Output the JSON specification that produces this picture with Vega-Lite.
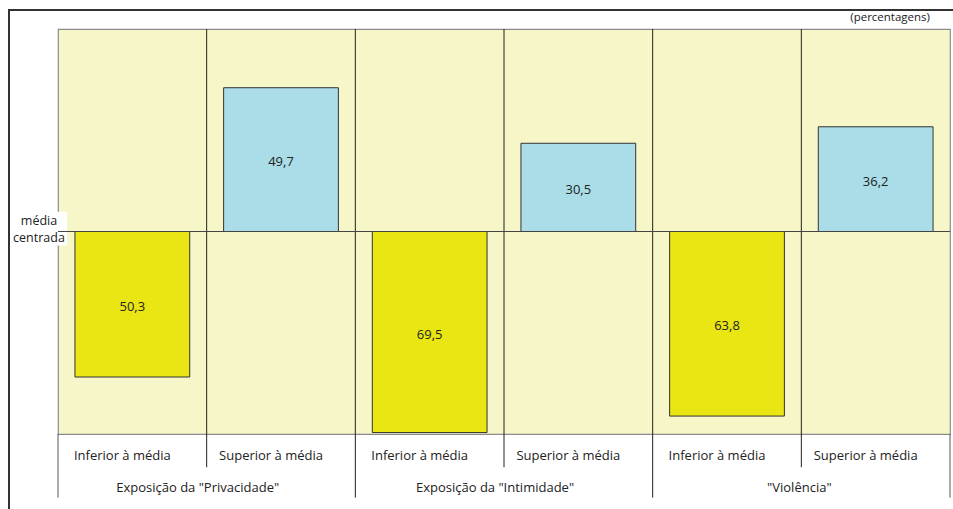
{
  "$schema": "https://vega.github.io/schema/vega-lite/v6.json",
  "width": 892,
  "height": 405,
  "autosize": {"type": "none"},
  "padding": {"left": 58, "top": 29, "right": 3, "bottom": 75},
  "background": "white",
  "config": {
    "view": {"fill": "#F7F6C8", "stroke": "#8a8a8a", "strokeWidth": 1.2},
    "font": "Open Sans",
    "text": {"font": "Open Sans", "fontSize": 13, "color": "#222"}
  },
  "data": {
    "values": [
      {"col": "P1", "grupo": "Exposição da \"Privacidade\"", "cat": "Inferior à média", "desvio": -50.3, "rotulo": "50,3"},
      {"col": "P2", "grupo": "Exposição da \"Privacidade\"", "cat": "Superior à média", "desvio": 49.7, "rotulo": "49,7"},
      {"col": "I1", "grupo": "Exposição da \"Intimidade\"", "cat": "Inferior à média", "desvio": -69.5, "rotulo": "69,5"},
      {"col": "I2", "grupo": "Exposição da \"Intimidade\"", "cat": "Superior à média", "desvio": 30.5, "rotulo": "30,5"},
      {"col": "V1", "grupo": "\"Violência\"", "cat": "Inferior à média", "desvio": -63.8, "rotulo": "63,8"},
      {"col": "V2", "grupo": "\"Violência\"", "cat": "Superior à média", "desvio": 36.2, "rotulo": "36,2"}
    ]
  },
  "resolve": {"scale": {"x": "shared", "y": "shared"}},
  "layer": [
    {
      "mark": {"type": "rect", "fill": null, "stroke": "#333", "strokeWidth": 1.5, "xOffset": -49, "x2Offset": 160, "clip": false},
      "encoding": {
        "x": {"datum": "P1", "type": "nominal", "bandPosition": 0, "scale": {"type": "band", "domain": ["P1", "P2", "I1", "I2", "V1", "V2"], "paddingInner": 0, "paddingOuter": 0}, "axis": null},
        "x2": {"datum": "V2"},
        "y": {"datum": 76.6, "type": "quantitative", "scale": {"domain": [-70, 70], "nice": false, "zero": false}, "axis": null},
        "y2": {"datum": -100}
      }
    },
    {
      "mark": {"type": "bar", "width": {"band": 0.772}, "stroke": "#333", "strokeWidth": 1},
      "encoding": {
        "x": {"field": "col", "type": "nominal", "sort": null},
        "y": {"field": "desvio", "type": "quantitative"},
        "y2": {"datum": 0},
        "color": {"field": "cat", "type": "nominal", "scale": {"domain": ["Inferior à média", "Superior à média"], "range": ["#EAE613", "#AADDE7"]}, "legend": null}
      }
    },
    {
      "transform": [{"filter": "datum.cat == 'Superior à média'"}],
      "mark": {"type": "rule", "color": "#222", "strokeWidth": 1},
      "encoding": {
        "x": {"field": "col", "type": "nominal", "bandPosition": 0},
        "y": {"datum": 70},
        "y2": {"datum": -81.5}
      }
    },
    {
      "transform": [{"filter": "datum.cat == 'Inferior à média' && datum.col != 'P1'"}],
      "mark": {"type": "rule", "color": "#222", "strokeWidth": 1},
      "encoding": {
        "x": {"field": "col", "type": "nominal", "bandPosition": 0},
        "y": {"datum": 70},
        "y2": {"datum": -92}
      }
    },
    {
      "transform": [{"filter": "datum.col == 'P1'"}],
      "mark": {"type": "rule", "color": "#555", "strokeWidth": 1},
      "encoding": {
        "x": {"field": "col", "type": "nominal", "bandPosition": 0},
        "y": {"datum": -70},
        "y2": {"datum": -92}
      }
    },
    {
      "transform": [{"filter": "datum.col == 'V2'"}],
      "mark": {"type": "rule", "color": "#555", "strokeWidth": 1},
      "encoding": {
        "x": {"field": "col", "type": "nominal", "bandPosition": 1},
        "y": {"datum": -70},
        "y2": {"datum": -92}
      }
    },
    {
      "transform": [{"filter": "datum.col == 'P1'"}],
      "mark": {"type": "rect", "fill": "white", "xOffset": -48, "x2Offset": 9},
      "encoding": {
        "x": {"field": "col", "type": "nominal", "bandPosition": 0},
        "x2": {"field": "col", "bandPosition": 0},
        "y": {"datum": 6.8},
        "y2": {"datum": -4.8}
      }
    },
    {
      "mark": {"type": "rule", "color": "#444", "strokeWidth": 1},
      "encoding": {"y": {"datum": 0}}
    },
    {
      "transform": [{"filter": "datum.col == 'P1'"}],
      "mark": {"type": "text", "xOffset": -19, "align": "center", "baseline": "middle", "lineHeight": 17, "fontSize": 12.5},
      "encoding": {
        "x": {"field": "col", "type": "nominal", "bandPosition": 0},
        "y": {"datum": 3.6},
        "text": {"value": ["média", "centrada"]}
      }
    },
    {
      "transform": [{"calculate": "datum.desvio / 2", "as": "meio"}],
      "mark": {"type": "text", "baseline": "middle", "align": "center", "yOffset": 2.5},
      "encoding": {
        "x": {"field": "col", "type": "nominal"},
        "y": {"field": "meio", "type": "quantitative"},
        "text": {"field": "rotulo"}
      }
    },
    {
      "mark": {"type": "text", "baseline": "middle", "align": "center", "xOffset": -10},
      "encoding": {
        "x": {"field": "col", "type": "nominal"},
        "y": {"datum": -77.6},
        "text": {"field": "cat"}
      }
    },
    {
      "transform": [{"filter": "datum.cat == 'Inferior à média' && datum.col != 'V1'"}],
      "mark": {"type": "text", "baseline": "middle", "align": "center", "xOffset": -9},
      "encoding": {
        "x": {"field": "col", "type": "nominal", "bandPosition": 1},
        "y": {"datum": -88.7},
        "text": {"field": "grupo"}
      }
    },
    {
      "transform": [{"filter": "datum.col == 'V1'"}],
      "mark": {"type": "text", "baseline": "middle", "align": "center", "xOffset": -2},
      "encoding": {
        "x": {"field": "col", "type": "nominal", "bandPosition": 1},
        "y": {"datum": -88.7},
        "text": {"field": "grupo"}
      }
    },
    {
      "transform": [{"filter": "datum.col == 'V2'"}],
      "mark": {"type": "text", "baseline": "middle", "align": "right", "xOffset": -20, "fontSize": 11.5},
      "encoding": {
        "x": {"field": "col", "type": "nominal", "bandPosition": 1},
        "y": {"datum": 73.9},
        "text": {"value": "(percentagens)"}
      }
    }
  ]
}
